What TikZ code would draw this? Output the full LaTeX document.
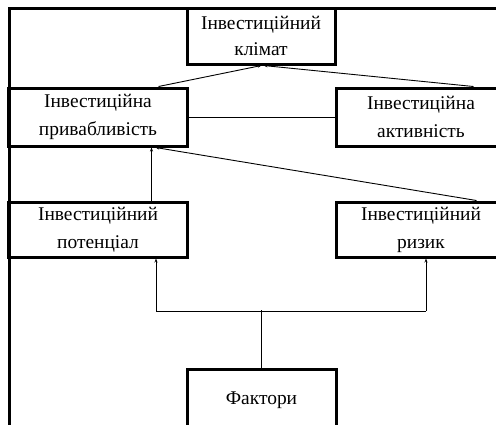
\documentclass[tikz,border=0pt]{standalone}
\usepackage{fontspec}
\setmainfont{Liberation Serif}
\usetikzlibrary{arrows.meta,calc}
\begin{document}
\begin{tikzpicture}[x=1bp,y=-1bp,
  box/.style={draw,line width=3bp,inner sep=0pt,align=center,
    font=\fontsize{19.5}{28}\selectfont},
  line/.style={line width=0.9bp},
  conn/.style={line width=0.9bp,-{Stealth[length=4bp,width=3bp]}}]
\useasboundingbox (0,0) rectangle (496,424);
\clip (0,0) rectangle (496,424);
\draw[line width=3bp] (9,440) -- (9,8) -- (510,8);
\node[box,minimum width=148bp,minimum height=56bp] (climat) at (261,36) {\raisebox{-2bp}{Інвестиційний}\\клімат};
\node[box,minimum width=178bp,minimum height=58bp] (attr) at (98,117) {Інвестиційна\\привабливість};
\node[box,minimum width=170bp,minimum height=58bp] (activity) at (421,117) {Інвестиційна\\активність};
\node[box,minimum width=178bp,minimum height=55bp] (potential) at (98,229.5) {Інвестиційний\\потенціал};
\node[box,minimum width=170bp,minimum height=55bp] (risk) at (421,229.5) {Інвестиційний\\ризик};
\node[box,minimum width=149bp,minimum height=62bp] (factors) at (261.5,400) {Фактори};
\draw[conn] ($(attr.north west)+(151,0)$) -- ($(climat.south west)+(76,0)$);
\draw[conn] ($(activity.north west)+(139,0)$) -- ($(climat.south west)+(78,0)$);
\draw[line] (attr.east) -- (activity.west);
\draw[conn] ($(potential.north west)+(144,0)$) -- ($(attr.south west)+(144,0)$);
\draw[conn] ($(risk.north west)+(142,0)$) -- ($(attr.south west)+(148,0)$);
\draw[line] (factors.north) -- ++(0,-58) coordinate (j);
\coordinate (jl) at (156,311);
\coordinate (jr) at (426,311);
\draw[line] (jl) -- (jr);
\draw[conn] (jl) -- (jl |- potential.south);
\draw[conn] (jr) -- (jr |- risk.south);
\end{tikzpicture}
\end{document}
